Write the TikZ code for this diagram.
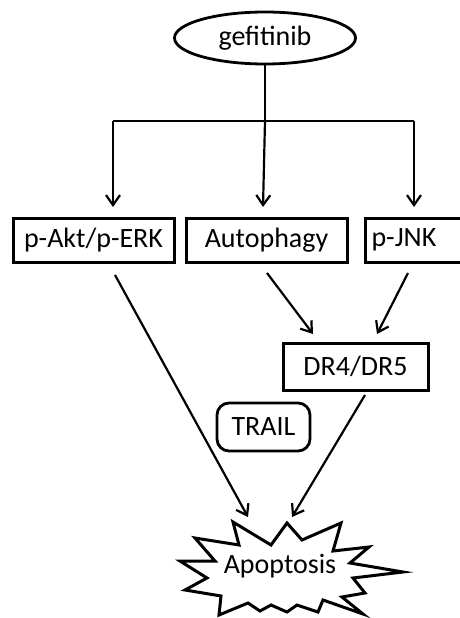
\documentclass[tikz,border=0pt]{standalone}
\usepackage{fontspec}
\setmainfont{Carlito}
\usetikzlibrary{arrows.meta,shapes.geometric}
\begin{document}
\begin{tikzpicture}[x=1pt,y=-1pt,
  every node/.style={font=\fontsize{28}{32}\selectfont, inner sep=0pt},
  boxnode/.style={draw, line width=3pt, minimum height=44pt},
  arr/.style={line width=2.2pt, -{Straight Barb[length=10pt,width=14pt,line width=2.2pt]}},
  plain/.style={line width=2.2pt}]
\useasboundingbox (0,0) rectangle (459,618);
% top
\node[draw, ellipse, line width=2.8pt, minimum width=181pt, minimum height=52pt] (gef) at (265,38) {gefitinib};
% boxes
\node[boxnode, minimum width=161pt] (akt) at (93.5,240) {p-Akt/p-ERK};
\node[boxnode, minimum width=161pt] (auto) at (266.5,240) {Autophagy};
\node[boxnode, minimum width=120pt, text width=110pt, align=left, inner xsep=6pt, anchor=west] (jnk) at (364,240) {p-JNK};
\node[boxnode, minimum width=145pt, minimum height=47pt] (dr) at (355.5,366.5) {DR4/DR5};
\node[draw, rounded corners=12pt, line width=2.8pt, minimum width=93pt, minimum height=48pt] (trail) at (263.5,427) {TRAIL};
% starburst
\draw[line width=3pt, line join=miter, fill=white]
  (233,522) -- (271,545) -- (287,523) -- (302,540) -- (341,523) -- (333,551) -- (369,547) -- (350,563)
  -- (403,572) -- (353,578) -- (365,593) -- (342,597) -- (363,614) -- (323,600) -- (318,612) -- (297,605)
  -- (287,612) -- (271,605) -- (260,611) -- (248,603) -- (219,615) -- (221,596) -- (185,590) -- (207,578)
  -- (180,561) -- (215,561) -- (195,538) -- (239,545) -- cycle;
\node[anchor=base] (apo) at (280,573) {Apoptosis};
% coordinates
\coordinate (hub) at (265,121);
\coordinate (bl) at (113,121);
\coordinate (br) at (414,121);
\coordinate (tl) at (113,207);
\coordinate (tm) at (263,207);
\coordinate (tr) at (414,207);
\coordinate (s1) at (115,275);
\coordinate (s2) at (267,273);
\coordinate (s3) at (408,273);
\coordinate (s4) at (365,395);
\coordinate (d1) at (313,334);
\coordinate (d2) at (377,334);
\coordinate (a1) at (248,517);
\coordinate (a2) at (292,517);
% connectors
\draw[plain] (gef.south) -- (hub);
\draw[plain] (bl) -- (br);
\draw[arr] (hub) -- (tm);
\draw[arr] (bl) -- (tl);
\draw[arr] (br) -- (tr);
\draw[arr] (s1) -- (a1);
\draw[arr] (s2) -- (d1);
\draw[arr] (s3) -- (d2);
\draw[arr] (s4) -- (a2);
\end{tikzpicture}
\end{document}
